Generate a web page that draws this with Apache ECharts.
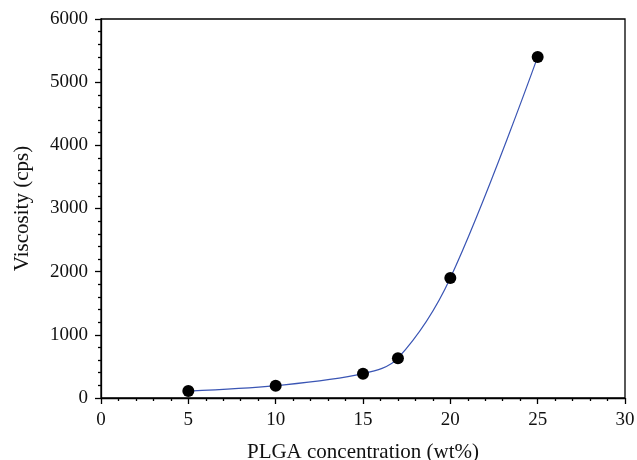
<!DOCTYPE html>
<html><head><meta charset="utf-8">
<script src="https://cdn.jsdelivr.net/npm/echarts@6/dist/echarts.min.js"></script>
<style>html,body{margin:0;padding:0;background:#fff}#c{width:637px;height:460px}</style>
</head><body><div id="c"></div>
<script>
const concentration = [5, 10, 15, 17, 20, 25];
const viscosity = [110, 195, 385, 630, 1900, 5400];
const xTicks = [0, 5, 10, 15, 20, 25, 30];
const yTicks = [0, 1000, 2000, 3000, 4000, 5000, 6000];

const font = '"Liberation Serif", "DejaVu Serif", serif';
const chart = echarts.init(document.getElementById('c'));
chart.setOption({
  animation: false,
  grid: {left: 101, right: 12, top: 19, bottom: 62, show: true, borderColor: '#000', borderWidth: 1.3,
         containLabel: false, outerBoundsMode: 'none'},
  xAxis: {
    type: 'value', min: xTicks[0], max: xTicks[xTicks.length-1], interval: 5,
    name: 'PLGA concentration (wt%)', nameLocation: 'middle', nameGap: 44,
    nameTextStyle: {fontFamily: font, fontSize: 21, color: '#111'},
    axisLine: {lineStyle: {color: '#000', width: 1.3}},
    axisTick: {inside: false, length: 6, lineStyle: {color: '#000', width: 1.3}},
    minorTick: {show: true, splitNumber: 5, length: 3, lineStyle: {color: '#000', width: 1.3}},
    splitLine: {show: false},
    axisLabel: {fontFamily: font, fontSize: 19, color: '#111', margin: 13, formatter: v => String(v)}
  },
  yAxis: {
    type: 'value', min: yTicks[0], max: yTicks[yTicks.length-1], interval: 1000,
    name: 'Viscosity (cps)', nameLocation: 'middle', nameGap: 68,
    nameTextStyle: {fontFamily: font, fontSize: 21, color: '#111'},
    axisLine: {lineStyle: {color: '#000', width: 1.3}},
    axisTick: {inside: false, length: 6, lineStyle: {color: '#000', width: 1.3}},
    minorTick: {show: true, splitNumber: 5, length: 3, lineStyle: {color: '#000', width: 1.3}},
    splitLine: {show: false},
    axisLabel: {fontFamily: font, fontSize: 19, color: '#111', margin: 13, formatter: v => String(v)}
  },
  series: [{
    type: 'line',
    data: concentration.map((x, i) => [x, viscosity[i]]),
    smooth: 0.35,
    symbol: 'circle', symbolSize: 12,
    itemStyle: {color: '#000'},
    lineStyle: {color: '#3a55b4', width: 1.2}
  }]
});
</script></body></html>
